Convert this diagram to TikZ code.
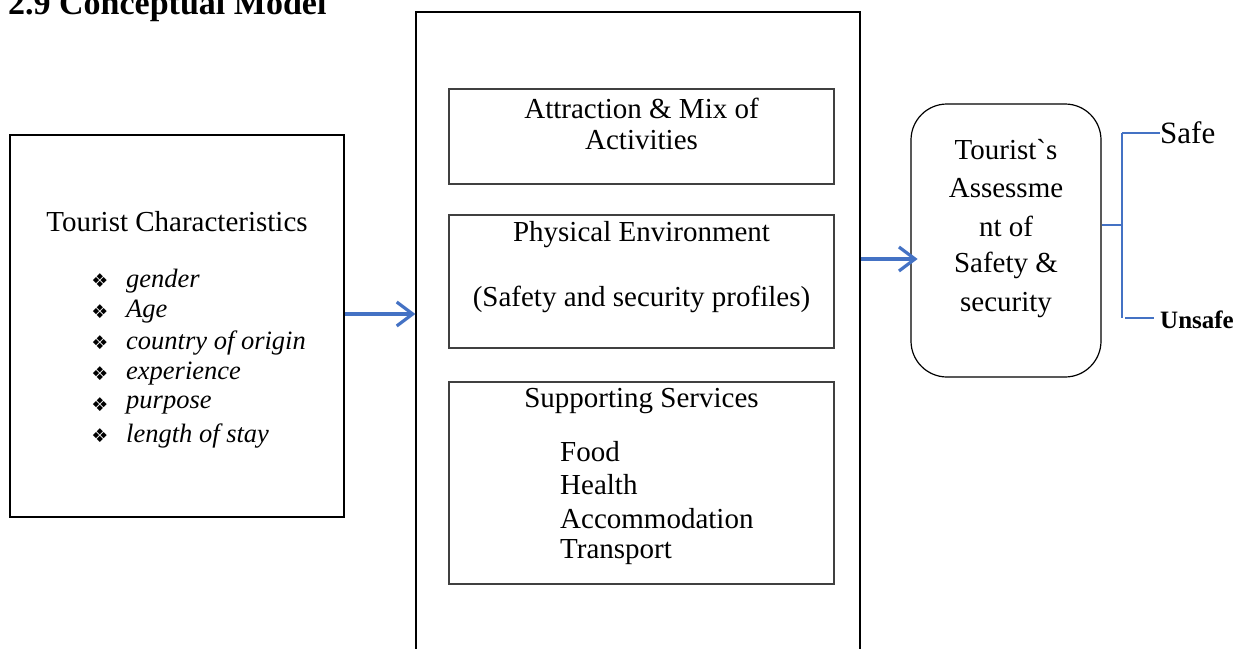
\documentclass[tikz,border=0pt]{standalone}
\usepackage{fontspec}
\setmainfont{Liberation Serif}
\newfontfamily\symfont{DejaVu Sans}
\newfontfamily\grvfont{Liberation Serif}[Ligatures=TeXOff]
\usetikzlibrary{arrows.meta}
\definecolor{officeblue}{RGB}{68,114,196}
\tikzset{
  box/.style={draw=black, line width=1.2pt, rectangle, inner sep=0pt},
  inbox/.style={draw=black!75, line width=1.1pt, rectangle, inner sep=0pt},
  txt/.style={font=\fontsize{29}{33}\selectfont, inner sep=0pt},
  itm/.style={font=\fontsize{26.5}{30}\selectfont\itshape, inner sep=0pt, anchor=west},
  bul/.style={font=\fontsize{19}{22}\selectfont\symfont, inner sep=0pt},
  arr/.style={draw=officeblue, line width=3.2pt, -{Straight Barb[length=16pt,width=24pt,line width=3.2pt]}},
  brk/.style={draw=officeblue, line width=1.3pt},
}
\begin{document}
\begin{tikzpicture}[x=1pt,y=-1pt]
\useasboundingbox (0,0) rectangle (1245,648);
% title
\node[anchor=base west, inner sep=0pt, font=\fontsize{34}{38}\selectfont\bfseries] (title) at (8,14) {2.9 Conceptual Model};
% left box
\node[box, minimum width=334pt, minimum height=382pt] (left) at (177,326) {};
\node[txt] (tc) at (177,222) {Tourist Characteristics};
\foreach \t [count=\i] in {gender,Age,country of origin,experience,purpose,length of stay}{
  \node[bul] (b\i) at (100,{281+31*(\i-1)}) {❖};
  \node[itm] (t\i) at (126,{281+31*(\i-1)}) {\t};
}
% middle big box
\node[box, minimum width=444pt, minimum height=660pt] (mid) at (638,342) {};
\node[inbox, minimum width=385pt, minimum height=95pt] (b1) at (641.5,136.5) {};
\node[txt] (b1a) at (641.5,108) {Attraction \& Mix of};
\node[txt] (b1b) at (641.5,140) {Activities};
\node[inbox, minimum width=385pt, minimum height=133pt] (b2) at (641.5,281.5) {};
\node[txt] (b2a) at (641.5,235) {Physical Environment};
\node[txt] (b2b) at (641.5,299) {(Safety and security profiles)};
\node[inbox, minimum width=385pt, minimum height=202pt] (b3) at (641.5,483) {};
\node[txt] (b3a) at (641.5,401) {Supporting Services};
\foreach \t/\yy [count=\i] in {Food/452,Health/485,Accommodation/519,Transport/552}{
  \node[txt, anchor=west] (s\i) at (560,\yy) {\t};
}
% rounded box
\node[box, rounded corners=36pt, minimum width=190pt, minimum height=273pt] (ra) at (1006,240.5) {};
\foreach \t/\yy [count=\i] in {Tourist{\grvfont`}s/150,Assessme/188,nt of/226,Safety \&/265,security/305}{
  \node[txt] (r\i) at (1006,\yy) {\t};
}
% arrows
\draw[arr] (left.east |- 0,314) -- (mid.west |- 0,314);
\draw[arr] (mid.east |- 0,259) -- ([xshift=57pt]mid.east |- 0,259);
% bracket
\coordinate (bj) at (1122,225);
\node[anchor=west, inner sep=0pt, font=\fontsize{31}{34}\selectfont] (safe) at (1160,133) {Safe};
\node[anchor=west, inner sep=0pt, font=\fontsize{25}{28}\selectfont\bfseries] (unsafe) at (1160,320) {Unsafe};
\draw[brk] (ra.east |- bj) -- (bj);
\draw[brk] (bj |- safe) -- (bj |- 0,318);
\draw[brk] (bj |- safe) -- (safe.west);
\draw[brk] (1125,318) -- ([xshift=-6pt]unsafe.west |- 0,318);
\end{tikzpicture}
\end{document}
